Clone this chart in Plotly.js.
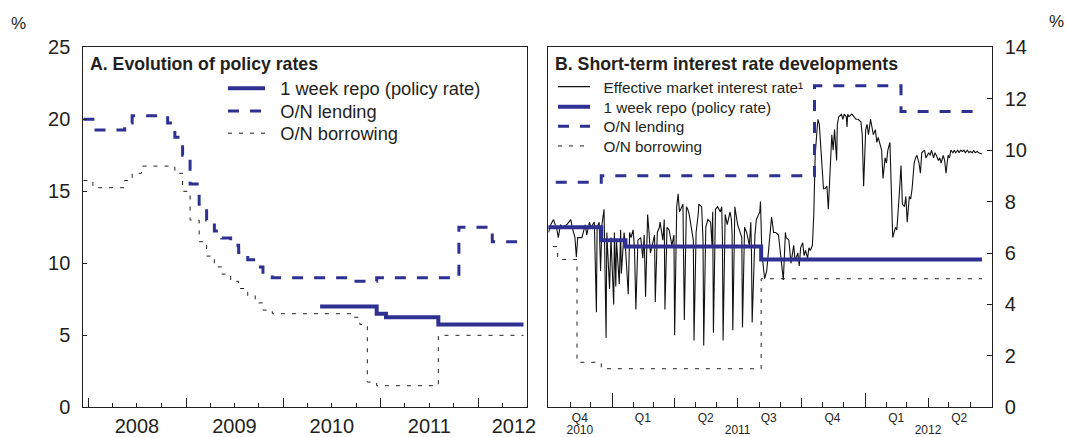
<!DOCTYPE html>
<html>
<head>
<meta charset="utf-8">
<script src="https://cdn.plot.ly/plotly-3.0.1.min.js"></script>
<style>html,body{margin:0;padding:0;background:#fff}#chart{width:1066px;height:437px}</style>
</head>
<body>
<div id="chart"></div>
<script>
// ---------- DATA ----------
// O/N lending rate (step changes)
const lendDates = ['2007-12-13','2008-01-18','2008-05-16','2008-06-13','2008-10-24','2008-11-20','2008-12-19','2009-01-16','2009-02-19','2009-03-19','2009-04-17','2009-05-15','2009-06-17','2009-07-17','2009-08-20','2009-09-17','2009-10-16','2009-11-20','2010-09-23','2010-12-16','2011-10-20','2012-02-22','2012-06-18'];
const lendVals  = [20.0,19.25,19.75,20.25,19.75,18.75,17.5,15.5,14.0,13.0,12.25,11.75,11.25,10.75,10.25,9.75,9.25,9.0,8.75,9.0,12.5,11.5,11.5];
// O/N borrowing rate (step changes)
const borrowDates = ['2007-12-13','2008-01-18','2008-05-16','2008-06-13','2008-07-18','2008-11-20','2008-12-19','2009-01-16','2009-02-19','2009-03-19','2009-04-17','2009-05-15','2009-06-17','2009-07-17','2009-08-20','2009-09-17','2009-10-16','2009-11-20','2010-09-23','2010-10-14','2010-11-11','2010-12-16','2011-08-04','2012-06-18'];
const borrowVals  = [15.75,15.25,15.75,16.25,16.75,16.25,15.0,13.0,11.5,10.5,9.75,9.25,8.75,8.25,7.75,7.25,6.75,6.5,6.25,5.75,1.75,1.5,5.0,5.0];
// 1 week repo (policy rate)
const repoDates = ['2010-05-18','2010-12-16','2011-01-20','2011-08-04','2012-06-18'];
const repoVals  = [7.0,6.5,6.25,5.75,5.75];
// Effective market interest rate
const effDates = ['2010-10-01','2010-10-04','2010-10-08','2010-10-13','2010-10-15','2010-10-18','2010-10-22','2010-10-27','2010-11-02','2010-11-04','2010-11-08','2010-11-10','2010-11-12','2010-11-18','2010-11-23','2010-11-25','2010-11-29','2010-12-01','2010-12-06','2010-12-09','2010-12-10','2010-12-13','2010-12-15','2010-12-17','2010-12-20','2010-12-23','2010-12-24','2010-12-28','2010-12-30','2011-01-03','2011-01-04','2011-01-06','2011-01-07','2011-01-11','2011-01-13','2011-01-14','2011-01-18','2011-01-20','2011-01-24','2011-01-26','2011-01-28','2011-01-31','2011-02-02','2011-02-04','2011-02-07','2011-02-11','2011-02-14','2011-02-16','2011-02-18','2011-02-21','2011-02-23','2011-02-25','2011-03-03','2011-03-04','2011-03-07','2011-03-10','2011-03-11','2011-03-15','2011-03-17','2011-03-18','2011-03-21','2011-03-24','2011-03-28','2011-03-31','2011-04-01','2011-04-04','2011-04-06','2011-04-08','2011-04-13','2011-04-15','2011-04-18','2011-04-20','2011-04-22','2011-04-25','2011-04-28','2011-04-29','2011-05-02','2011-05-05','2011-05-06','2011-05-10','2011-05-12','2011-05-13','2011-05-16','2011-05-19','2011-05-23','2011-05-25','2011-05-26','2011-05-27','2011-05-30','2011-06-02','2011-06-06','2011-06-08','2011-06-09','2011-06-10','2011-06-13','2011-06-16','2011-06-20','2011-06-22','2011-06-23','2011-06-24','2011-06-27','2011-07-01','2011-07-05','2011-07-07','2011-07-08','2011-07-11','2011-07-14','2011-07-18','2011-07-20','2011-07-21','2011-07-22','2011-07-26','2011-07-28','2011-08-01','2011-08-02','2011-08-03','2011-08-05','2011-08-09','2011-08-12','2011-08-15','2011-08-17','2011-08-19','2011-08-22','2011-08-25','2011-08-29','2011-08-31','2011-09-02','2011-09-05','2011-09-08','2011-09-09','2011-09-13','2011-09-15','2011-09-16','2011-09-20','2011-09-22','2011-09-26','2011-09-28','2011-09-30','2011-10-03','2011-10-05','2011-10-07','2011-10-10','2011-10-12','2011-10-14','2011-10-17','2011-10-19','2011-10-21','2011-10-24','2011-10-25','2011-10-27','2011-10-31','2011-11-02','2011-11-04','2011-11-07','2011-11-09','2011-11-11','2011-11-14','2011-11-16','2011-11-18','2011-11-21','2011-11-22','2011-11-24','2011-11-28','2011-11-30','2011-12-02','2011-12-05','2011-12-06','2011-12-07','2011-12-09','2011-12-13','2011-12-16','2011-12-19','2011-12-22','2011-12-26','2011-12-28','2011-12-30','2012-01-02','2012-01-04','2012-01-06','2012-01-09','2012-01-11','2012-01-13','2012-01-16','2012-01-18','2012-01-20','2012-01-23','2012-01-25','2012-01-27','2012-01-30','2012-02-01','2012-02-03','2012-02-06','2012-02-08','2012-02-10','2012-02-14','2012-02-16','2012-02-20','2012-02-22','2012-02-24','2012-02-27','2012-02-29','2012-03-02','2012-03-05','2012-03-07','2012-03-09','2012-03-12','2012-03-14','2012-03-16','2012-03-19','2012-03-21','2012-03-23','2012-03-27','2012-03-29','2012-04-02','2012-04-04','2012-04-06','2012-04-09','2012-04-11','2012-04-13','2012-04-16','2012-04-18','2012-04-20','2012-04-23','2012-04-25','2012-04-27','2012-04-30','2012-05-02','2012-05-04','2012-05-07','2012-05-09','2012-05-11','2012-05-14','2012-05-16','2012-05-18','2012-05-21','2012-05-23','2012-05-25','2012-05-28','2012-05-30','2012-06-01','2012-06-04','2012-06-06','2012-06-08','2012-06-11','2012-06-13','2012-06-18'];
const effVals = [6.8,7.1,7.3,6.9,6.6,7.1,7.0,7.1,7.3,7.0,6.6,5.85,6.6,6.6,7.1,6.7,7.2,7.0,7.2,3.7,7.0,7.2,5.3,7.1,7.7,2.7,6.8,4.6,6.6,4.0,6.8,4.7,6.5,4.8,6.9,5.2,6.8,6.2,4.4,6.8,6.6,6.9,6.2,3.8,6.5,6.6,5.8,6.7,4.3,7.5,6.8,6.0,6.7,4.1,6.8,7.0,7.2,6.5,7.3,3.8,7.0,6.9,6.3,6.7,2.8,7.8,8.3,7.6,7.9,3.4,7.8,7.7,7.5,6.9,6.5,2.6,6.8,7.5,7.9,7.8,6.5,2.4,7.0,7.3,7.2,6.3,7.6,2.9,7.7,7.8,7.6,7.8,6.6,2.6,7.5,7.1,7.6,7.3,6.7,3.0,7.8,7.1,6.8,6.6,3.1,7.0,6.8,6.3,7.2,6.0,3.3,6.7,7.3,7.6,7.6,8.0,6.0,5.0,5.3,6.2,7.0,7.4,6.8,6.8,6.7,6.2,5.6,4.95,6.8,6.6,6.5,6.0,5.6,6.3,5.7,6.0,5.5,6.2,6.4,5.9,6.1,5.8,6.2,6.1,6.3,7.5,9.8,10.9,11.2,11.0,9.5,8.5,8.5,8.6,7.7,9.0,10.6,10.0,10.8,9.6,11.0,11.3,11.4,11.2,11.4,11.3,10.9,11.4,11.3,11.4,11.3,11.2,11.2,11.1,10.6,8.6,10.8,11.0,10.6,11.2,10.9,10.6,10.8,10.3,10.5,10.2,10.0,8.9,9.7,9.5,10.0,10.3,8.8,6.6,7.0,6.9,8.5,9.4,7.9,7.8,8.2,7.2,8.2,8.1,8.5,9.5,9.7,9.8,9.5,9.1,9.9,10.0,9.7,9.9,9.8,10.0,9.7,9.9,9.8,9.6,9.7,9.5,9.8,9.6,9.1,9.8,9.7,10.0,9.9,10.0,9.9,10.0,9.9,10.0,9.95,10.0,9.9,10.0,9.9,9.95,9.9,10.0,9.9,9.95,9.9,9.85];

// Axis tick positions / labels
const leftYearBounds = ['2008-01-01','2009-01-01','2010-01-01','2011-01-01','2012-01-01'];
const leftYearLabelPos = ['2008-07-01','2009-07-01','2010-07-01','2011-07-01','2012-05-13'];
const leftYearLabels = ['2008','2009','2010','2011','2012'];
const rightQuarterBounds = ['2010-10-01','2011-01-01','2011-04-01','2011-07-01','2011-10-01','2012-01-01','2012-04-01','2012-07-01'];
const rightYearBounds = ['2011-01-01','2012-01-01'];
const rightQuarterLabelPos = ['2010-11-15','2011-02-14','2011-05-16','2011-08-15','2011-11-15','2012-02-15','2012-05-16'];
const rightQuarterLabels = ['Q4','Q1','Q2','Q3','Q4','Q1','Q2'];
const rightYearLabelPos = ['2010-11-15','2011-07-01','2012-04-01'];
const rightYearLabels = ['2010','2011','2012'];
const leftYTicks = [0,5,10,15,20,25];
const rightYTicks = [0,2,4,6,8,10,12,14];

// Series names
const NAME_REPO = '1 week repo (policy rate)';
const NAME_LEND = 'O/N lending';
const NAME_BORROW = 'O/N borrowing';
const NAME_EFF = 'Effective market interest rate¹';

// ---------- STYLE ----------
const BLUE = '#2e3192';
const INK = '#231f20';
const FONT = 'Arial, "Liberation Sans", sans-serif';
const W = 1066, H = 437;
const px = v => v / W;
const py = v => (H - v) / H;
const leftRange = ['2007-12-13','2012-06-30'];
const rightRange = ['2010-09-30 12:00','2012-07-02'];
const yDom = [py(407.3), py(47.3)];
const SP = '\u00a0\u00a0';

const lineRepo = {shape:'hv', color:BLUE, width:4};
const lineLend = {shape:'hv', color:BLUE, width:3, dash:'11px,11px'};
const lineBorrow = {shape:'hv', color:INK, width:1, dash:'4px,7px'};

const traces = [
  // left panel
  {x: borrowDates, y: borrowVals, xaxis:'x', yaxis:'y', mode:'lines', line:lineBorrow, name:SP+NAME_BORROW, legend:'legend4'},
  {x: lendDates, y: lendVals, xaxis:'x', yaxis:'y', mode:'lines', line:lineLend, name:SP+NAME_LEND, legend:'legend3'},
  {x: repoDates, y: repoVals, xaxis:'x', yaxis:'y', mode:'lines', line:lineRepo, name:SP+NAME_REPO, legend:'legend'},
  // right panel
  {x: effDates, y: effVals, xaxis:'x2', yaxis:'y2', mode:'lines', line:{color:'#111', width:1.1}, name:SP+NAME_EFF, legend:'legend2'},
  {x: borrowDates, y: borrowVals, xaxis:'x2', yaxis:'y2', mode:'lines', line:lineBorrow, name:SP+NAME_BORROW, legend:'legend7'},
  {x: lendDates, y: lendVals, xaxis:'x2', yaxis:'y2', mode:'lines', line:lineLend, name:SP+NAME_LEND, legend:'legend6'},
  {x: repoDates, y: repoVals, xaxis:'x2', yaxis:'y2', mode:'lines', line:lineRepo, name:SP+NAME_REPO, legend:'legend5'},
  // empty traces to register overlay label axes
  {x: [], y: [], xaxis:'x3', yaxis:'y2', showlegend:false, hoverinfo:'skip'},
  {x: [], y: [], xaxis:'x4', yaxis:'y2', showlegend:false, hoverinfo:'skip'},
  {x: [], y: [], xaxis:'x5', yaxis:'y2', showlegend:false, hoverinfo:'skip'},
  {x: [], y: [], xaxis:'x6', yaxis:'y', showlegend:false, hoverinfo:'skip'}
];

const frame = {showline:true, mirror:true, linecolor:INK, linewidth:1, showgrid:false, zeroline:false, fixedrange:true};
const overlay = {type:'date', showline:false, showgrid:false, zeroline:false, fixedrange:true};
function leg(xLeft, yMid, size, iw) {
  return {x:px(xLeft), y:py(yMid), xanchor:'left', yanchor:'middle', bgcolor:'rgba(0,0,0,0)', borderwidth:0,
    font:{size:size, color:INK, family:FONT}, itemwidth:iw, tracegroupgap:0};
}

const layout = {
  width: W, height: H,
  margin: {l:0, r:0, t:0, b:0},
  paper_bgcolor:'#fff', plot_bgcolor:'#fff',
  font: {family: FONT, color: INK},
  showlegend: true,
  xaxis: Object.assign({}, frame, {type:'date', domain:[px(83.3), px(526.7)], anchor:'y', range:leftRange,
    tickmode:'array', tickvals:leftYearBounds, ticks:'inside', ticklen:9, tickcolor:INK, showticklabels:false,
    minor:{dtick:'M3', tick0:'2008-01-01', ticks:'inside', ticklen:4, tickcolor:INK, showgrid:false}}),
  xaxis6: Object.assign({}, overlay, {overlaying:'x', anchor:'y', range:leftRange, tickmode:'array',
    tickvals:leftYearLabelPos, ticktext:leftYearLabels, ticks:'', tickfont:{size:20, color:INK}, ticklabelstandoff:5}),
  yaxis: Object.assign({}, frame, {domain:yDom, anchor:'x', range:[0,25], tickmode:'array', tickvals:leftYTicks,
    ticks:'inside', ticklen:4, tickcolor:INK, tickfont:{size:20, color:INK}, ticklabelstandoff:8}),
  xaxis2: Object.assign({}, frame, {type:'date', domain:[px(548.3), px(991.7)], anchor:'y2', range:rightRange,
    tickmode:'array', tickvals:rightQuarterBounds, ticks:'inside', ticklen:9, tickcolor:INK, showticklabels:false,
    minor:{dtick:'M1', tick0:'2010-10-01', ticks:'inside', ticklen:5, tickcolor:INK, showgrid:false}}),
  xaxis3: Object.assign({}, overlay, {overlaying:'x2', anchor:'y2', range:rightRange, tickmode:'array',
    tickvals:rightYearBounds, ticks:'inside', ticklen:14, tickcolor:INK, showticklabels:false}),
  xaxis4: Object.assign({}, overlay, {overlaying:'x2', anchor:'y2', range:rightRange, tickmode:'array',
    tickvals:rightQuarterLabelPos, ticktext:rightQuarterLabels, ticks:'', tickfont:{size:12, color:INK}, ticklabelstandoff:2}),
  xaxis5: Object.assign({}, overlay, {overlaying:'x2', anchor:'y2', range:rightRange, tickmode:'array',
    tickvals:rightYearLabelPos, ticktext:rightYearLabels, ticks:'', tickfont:{size:12, color:INK}, ticklabelstandoff:14}),
  yaxis2: Object.assign({}, frame, {domain:yDom, anchor:'x2', side:'right', range:[0,14], tickmode:'array', tickvals:rightYTicks,
    ticks:'inside', ticklen:5, tickcolor:INK, tickfont:{size:20, color:INK}, ticklabelstandoff:8}),
  // left legend rows
  legend:  leg(223, 88.3, 18.3, 37),
  legend3: leg(223, 111, 18.3, 37),
  legend4: leg(223, 133.3, 18.3, 37),
  // right legend rows
  legend2: leg(553, 86.7, 15.3, 32),
  legend5: leg(553, 106.7, 15.3, 32),
  legend6: leg(553, 126.3, 15.3, 32),
  legend7: leg(553, 146, 15.3, 32),
  annotations: [
    {xref:'paper', yref:'paper', x:px(88), y:py(64), xanchor:'left', yanchor:'middle', showarrow:false,
     text:'<b>A. Evolution of policy rates</b>', font:{size:17.7, color:INK}},
    {xref:'paper', yref:'paper', x:px(553), y:py(64), xanchor:'left', yanchor:'middle', showarrow:false,
     text:'<b>B. Short-term interest rate developments</b>', font:{size:17.7, color:INK}},
    {xref:'paper', yref:'paper', x:px(18), y:py(23), xanchor:'center', yanchor:'middle', showarrow:false,
     text:'%', font:{size:17, color:INK}},
    {xref:'paper', yref:'paper', x:px(1056), y:py(22), xanchor:'center', yanchor:'middle', showarrow:false,
     text:'%', font:{size:17, color:INK}}
  ]
};

Plotly.newPlot('chart', traces, layout, {staticPlot:true, displayModeBar:false});
</script>
</body>
</html>
